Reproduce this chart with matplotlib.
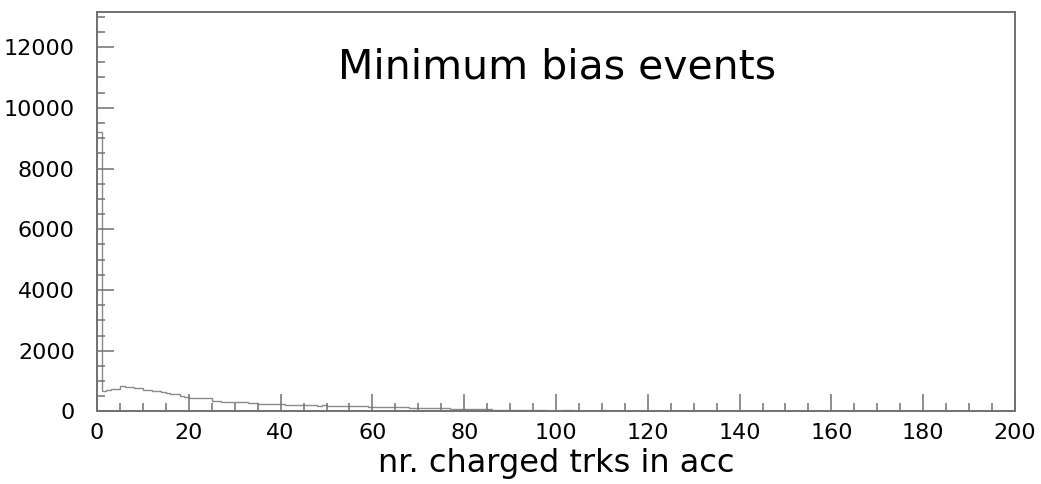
import numpy as np
import matplotlib
matplotlib.use("Agg")
import matplotlib.pyplot as plt
from matplotlib.ticker import MultipleLocator

# counts per unit-wide bin (bins 0..119, rest empty)
counts_low = [9200, 690, 700, 730, 740, 850, 820, 800, 770, 760,
              720, 710, 690, 660, 640, 620, 590, 560, 510, 480,
              460, 450, 450, 440, 430, 360, 330, 320, 320, 310,
              300, 300, 310, 290, 290, 260, 250, 250, 240, 250,
              240, 230, 230, 220, 210, 200, 205, 200, 195, 200,
              190, 195, 185, 180, 190, 175, 170, 170, 165, 160,
              160, 155, 150, 150, 145, 140, 140, 135, 130, 130,
              120, 115, 110, 110, 105, 100, 100, 95, 90, 90,
              85, 80, 80, 75, 70, 70, 65, 60, 60, 55,
              50, 50, 45, 45, 40, 40, 35, 35, 30, 30,
              30, 45, 40, 40, 25, 20, 20, 20, 15, 15,
              35, 30, 15, 10, 10, 20, 15, 5, 5, 0]
n_bins = 200
counts = counts_low + [0] * (n_bins - len(counts_low))
edges = list(range(0, n_bins + 1))

title = "Minimum bias events"
xlabel = "nr. charged trks in acc"

fig = plt.figure(figsize=(10.41, 4.84), dpi=100)
ax = fig.add_axes([0.0932, 0.1498, 0.8818, 0.8252])

ax.stairs(counts, edges, color="#8a8a8a", lw=1.0, baseline=None)

ax.set_xlim(0, 200)
ax.set_ylim(0, 13150)

ax.xaxis.set_major_locator(MultipleLocator(20))
ax.xaxis.set_minor_locator(MultipleLocator(5))
ax.yaxis.set_major_locator(MultipleLocator(2000))
ax.yaxis.set_minor_locator(MultipleLocator(500))

frame = "#707070"
for s in ax.spines.values():
    s.set_color(frame)
    s.set_linewidth(1.4)

ax.tick_params(which="both", direction="in", color=frame, width=1.1,
               top=False, right=False, labelsize=16)
ax.tick_params(which="major", length=12)
ax.tick_params(which="minor", length=6)
ax.tick_params(axis="y", pad=16)
ax.tick_params(axis="x", pad=8)

ax.set_xlabel(xlabel, fontsize=23, labelpad=4)
ax.text(0.501, 0.835, title, transform=ax.transAxes, ha="center",
        va="baseline", fontsize=29.5)

fig.savefig("out.png", dpi=100)
